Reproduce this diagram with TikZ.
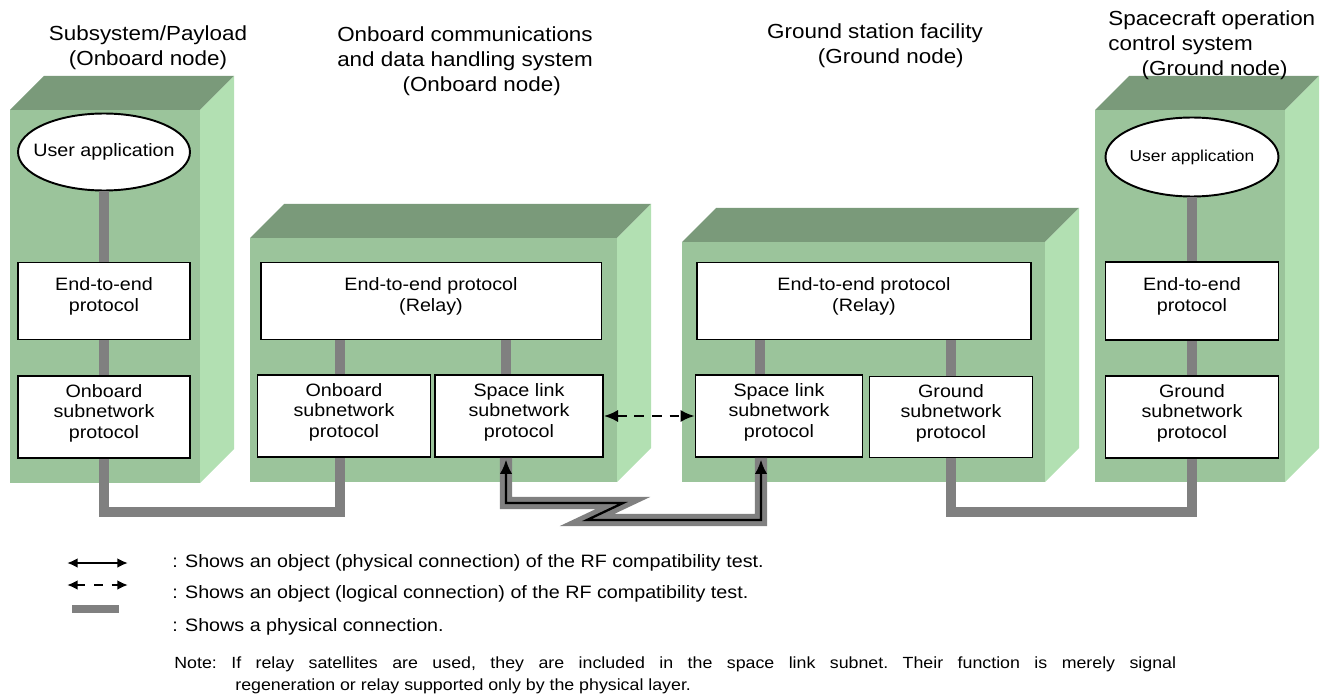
\documentclass[tikz,border=0pt]{standalone}
\usepackage{fontspec}
\setmainfont{Liberation Sans}[FakeStretch=1.1]
\usepackage{tikz}
\usetikzlibrary{positioning}
\usetikzlibrary{arrows.meta}
\usetikzlibrary{calc}
\usetikzlibrary{shapes.geometric}

\definecolor{frontgreen}{RGB}{155,196,155}
\definecolor{topgreen}{RGB}{122,154,122}
\definecolor{sidegreen}{RGB}{178,224,178}
\definecolor{linkgrey}{RGB}{128,128,128}

% block with front, top and side face: x1, y1, x2, y2 of the front
\newcommand{\stationblock}[4]{%
  \fill[topgreen] (#1,#2) -- (#1+34,#2-34) -- (#3+34,#2-34) -- (#3,#2) -- cycle;
  \fill[sidegreen] (#3,#2) -- (#3+34,#2-34) -- (#3+34,#4-34) -- (#3,#4) -- cycle;
  \fill[frontgreen] (#1,#2) rectangle (#3,#4);
}

\begin{document}
\begin{tikzpicture}[
            > = {Latex[length=8pt,width=7pt]}, % arrow head style
            x = 0.02cm, y = -0.02cm, % one unit per pixel
            auto,
            line join = miter
        ]

        \tikzstyle{protocol}=[
            draw,
            line width = 1.1pt,
            fill = white,
            align = center,
            inner sep = 0pt,
            font = \fontsize{10.2}{11.9}\selectfont
        ]
        \tikzstyle{twolines}=[text depth = 7.4pt] % lifts the text a little
        \tikzstyle{threelines}=[text depth = 6.3pt]
        \tikzstyle{application}=[protocol, ellipse, inner xsep = -6pt]
        \tikzstyle{title}=[inner sep = 0pt, font = \fontsize{11.6}{14.2}\selectfont]
        \tikzstyle{legend}=[inner sep = 0pt, anchor = west, font = \fontsize{10.2}{12}\selectfont]
        \tikzstyle{physline}=[line width = 5.7pt, draw = linkgrey]
        \tikzstyle{rflink}=[line width = 1.3pt, <->]

        \useasboundingbox (0,0) rectangle (1333,696);

	% BLOCKS
        \stationblock{10}{110}{200}{483}
        \stationblock{250}{238}{617}{482}
        \stationblock{682}{242}{1045}{482}
        \stationblock{1095}{110}{1285}{482}

	% TITLES
        \node[title, align = center] (T1) at (148,48) {Subsystem/Payload\\(Onboard node)};
        \node[title, align = center] (T2) at (465,61) {Onboard communications\\and data handling system\\\hspace*{19pt}(Onboard node)};
        \node[title, align = center] (T3) at (875,46) {Ground station facility\\\hspace*{18pt}(Ground node)};
        \node[title, align = left, anchor = west] (T4) at (1108,45) {Spacecraft operation\\control system\\\hspace*{19pt}(Ground node)};

	% SUBSYSTEM / PAYLOAD
        \node[application, minimum width = 3.44cm, minimum height = 1.54cm] (APP1) at (104,152) {User application};
        \node[protocol, twolines, minimum width = 3.44cm, minimum height = 1.54cm] (E2E1) at (104,301) {End-to-end\\protocol};
        \node[protocol, threelines, minimum width = 3.44cm, minimum height = 1.64cm] (SUB1) at (104,417) {Onboard\\subnetwork\\protocol};

	% ONBOARD C&DH
        \node[protocol, twolines, minimum width = 6.82cm, minimum height = 1.54cm] (E2E2) at (431,301) {End-to-end protocol\\(Relay)};
        \node[protocol, threelines, minimum width = 3.46cm, minimum height = 1.64cm] (OBS2) at (344,416) {Onboard\\subnetwork\\protocol};
        \node[protocol, threelines, minimum width = 3.36cm, minimum height = 1.64cm] (SLS2) at (519,416) {Space link\\subnetwork\\protocol};

	% GROUND STATION
        \node[protocol, twolines, minimum width = 6.68cm, minimum height = 1.54cm] (E2E3) at (864,301) {End-to-end protocol\\(Relay)};
        \node[protocol, threelines, minimum width = 3.34cm, minimum height = 1.64cm] (SLS3) at (779,416) {Space link\\subnetwork\\protocol};
        \node[protocol, threelines, minimum width = 3.26cm, minimum height = 1.62cm] (GRS3) at (951,417) {Ground\\subnetwork\\protocol};

	% OPERATION CONTROL
        \node[application, minimum width = 3.46cm, minimum height = 1.58cm, font = \fontsize{9}{10}\selectfont] (APP4) at (1192,157) {User application};
        \node[protocol, twolines, minimum width = 3.46cm, minimum height = 1.56cm] (E2E4) at (1192,301) {End-to-end\\protocol};
        \node[protocol, threelines, minimum width = 3.46cm, minimum height = 1.64cm] (GRS4) at (1192,417) {Ground\\subnetwork\\protocol};

        \coordinate (OB2top) at ($(OBS2.north)+(-4,0)$);
        \coordinate (OB2bot) at ($(OBS2.south)+(-4,0)$);
        \coordinate (SL2top) at ($(SLS2.north)+(-13,0)$);
        \coordinate (SL2bot) at ($(SLS2.south)+(-13,0)$);
        \coordinate (SL3top) at ($(SLS3.north)+(-19,0)$);
        \coordinate (SL3bot) at ($(SLS3.south)+(-18,0)$);

	% PHYSICAL CONNECTIONS
        \path[physline] (APP1) edge (E2E1);
        \path[physline] (E2E1) edge (SUB1);
        \path[physline] (OB2top) edge (OB2top |- E2E2.south);
        \path[physline] (SL2top) edge (SL2top |- E2E2.south);
        \path[physline] (SL3top) edge (SL3top |- E2E3.south);
        \path[physline] (GRS3.north) edge (GRS3.north |- E2E3.south);
        \path[physline] (APP4) edge (E2E4);
        \path[physline] (E2E4) edge (GRS4);

        \draw[physline] (SUB1.south) -- ++(0,53) -| (OB2bot);
        \draw[physline] (GRS3.south) -- ++(0,54) -| (GRS4.south);

	% RF COMPATIBILITY TEST
        \draw[physline, line width = 7pt] (SL2bot) |- (623,503) -- (587,520) -| (SL3bot);
        \draw[rflink, shorten < = 1pt, shorten > = 1pt] (SL2bot) |- (623,503) -- (587,520) -| (SL3bot);
        \draw[rflink, dash pattern = on 5.5pt off 4.5pt] (SLS2.east) -- (SLS3.west);

	% LEGEND
        \coordinate (L1a) at (67,563);
        \coordinate (L1b) at (128,563);
        \coordinate (L2a) at (67,585);
        \coordinate (L2b) at (128,585);
        \coordinate (L3a) at (72,609);
        \coordinate (L3b) at (119,609);
        \draw[rflink, > = {Latex[length=6pt,width=5.5pt]}] (L1a) -- (L1b);
        \draw[rflink, > = {Latex[length=6pt,width=5.5pt]}, dash pattern = on 5pt off 5pt] (L2a) -- (L2b);
        \draw[line width = 4.8pt, linkgrey] (L3a) -- (L3b);

        \node[legend] (N1) at (172,563) {: Shows an object (physical connection) of the RF compatibility test.};
        \node[legend] (N2) at (172,594) {: Shows an object (logical connection) of the RF compatibility test.};
        \node[legend] (N3) at (172,627) {: Shows a physical connection.};

        \node[legend, font = \fontsize{9.2}{11}\selectfont\frenchspacing] (NOTE1) at (174,664) {\makebox[20.04cm][s]{Note: If relay satellites are used, they are included in the space link subnet. Their function is merely signal}};
        \node[legend, font = \fontsize{9.2}{11}\selectfont] (NOTE2) at (235,686) {regeneration or relay supported only by the physical layer.};

  \end{tikzpicture}
\end{document}
